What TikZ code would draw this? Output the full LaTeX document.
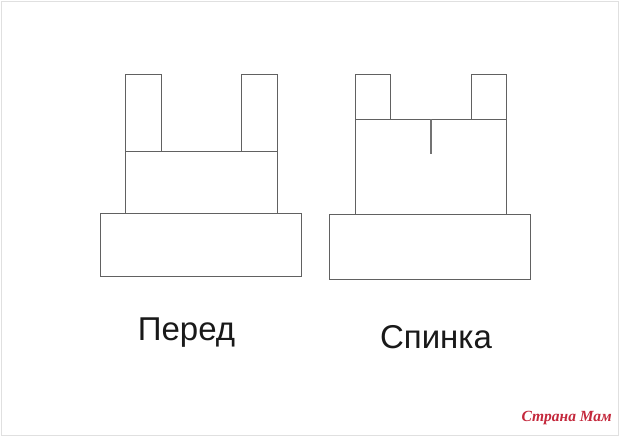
\documentclass[tikz,border=0pt]{standalone}
\usepackage{fontspec}
\setmainfont{Liberation Sans}
\newfontfamily\markfont{Liberation Serif}
\usetikzlibrary{positioning}
\definecolor{markred}{RGB}{196,40,60}
\tikzset{
	sheet/.style={x=1pt,y=-1pt},
	frame/.style={draw=black!12,line width=0.8pt},
	part/.style={draw=black!62,line width=1pt},
	slit/.style={draw=black!55,line width=1.7pt},
	caption/.style={anchor=base,font=\fontsize{33}{36}\selectfont,text=black!90,inner sep=0pt},
	watermark/.style={anchor=base east,font=\markfont\bfseries\itshape\fontsize{15.5}{17}\selectfont,text=markred,inner sep=0pt}
}

\begin{document}
\begin{tikzpicture}[sheet]
	\useasboundingbox (0,0) rectangle (620,437);
	\fill[white] (0,0) rectangle (620,437);
	\draw[frame] (1.5,1.5) rectangle (618.5,435.5);

	% front
	\coordinate (FbaseA) at (100,213);
	\coordinate (FbaseB) at (301,276);
	\coordinate (FmidA)  at (125,151);
	\coordinate (FmidB)  at (277,213);
	\draw[part] (FbaseA) rectangle (FbaseB);
	\draw[part] (FmidA) rectangle (FmidB);
	\draw[part] (125,74) rectangle (161,151);
	\draw[part] (241,74) rectangle (277,151);

	% back
	\coordinate (BbaseA) at (329,214);
	\coordinate (BbaseB) at (530,279);
	\coordinate (BmidA)  at (355,119);
	\coordinate (BmidB)  at (506,214);
	\draw[part] (BbaseA) rectangle (BbaseB);
	\draw[part] (BmidA) rectangle (BmidB);
	\draw[part] (355,74) rectangle (390,119);
	\draw[part] (471,74) rectangle (506,119);
	\coordinate (slitTop) at (431,119);
	\coordinate (slitEnd) at (431,154);
	\draw[slit] (slitTop) -- (slitEnd);

	\node[caption] (front) at (186.5,340) {Перед};
	\node[caption] (back) at (436,348) {Спинка};
	\node[watermark] (mark) at (612,421) {Страна Мам};
\end{tikzpicture}
\end{document}
